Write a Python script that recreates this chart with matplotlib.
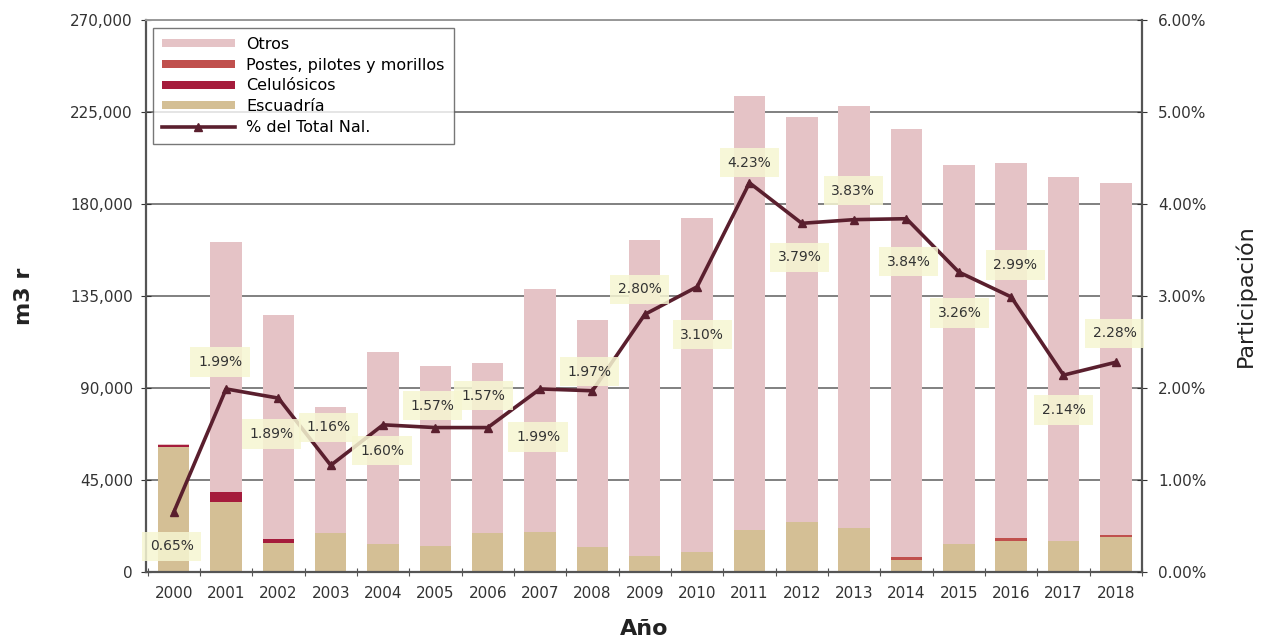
import matplotlib
matplotlib.use("Agg")
import matplotlib.pyplot as plt
from matplotlib.ticker import FuncFormatter, MultipleLocator, FixedLocator, NullFormatter
import numpy as np

years = ["2000", "2001", "2002", "2003", "2004", "2005", "2006", "2007", "2008", "2009",
         "2010", "2011", "2012", "2013", "2014", "2015", "2016", "2017", "2018"]
escuadria = [61100, 34400, 14300, 18900, 13500, 12700, 18900, 19700, 12400, 8000,
             9800, 20400, 24300, 21400, 5900, 13500, 15200, 15300, 17000]
celulosicos = [1000, 4900, 2000, 0, 0, 0, 0, 0, 0, 0,
               0, 0, 0, 0, 0, 0, 0, 0, 0]
postes = [0, 0, 0, 0, 0, 0, 0, 0, 0, 0,
          0, 0, 0, 0, 1300, 0, 1300, 0, 1300]
totales = [62600, 161400, 125700, 80700, 107600, 100750, 102200, 138400, 123250, 162400,
           173100, 232800, 222500, 227900, 216700, 199100, 200000, 193200, 190200]
pct_total = [0.65, 1.99, 1.89, 1.16, 1.60, 1.57, 1.57, 1.99, 1.97, 2.80,
             3.10, 4.23, 3.79, 3.83, 3.84, 3.26, 2.99, 2.14, 2.28]

otros = [t - e - c - p for t, e, c, p in zip(totales, escuadria, celulosicos, postes)]

# label offsets in pixels (style)
lab_dx = [-2, -6, -7, -2, -1, -3, -4, -2, -3, -5, 5, 0, -2, -1, 2, 1, 4, 0, -1]
lab_dy = [-34, 27, -36, 38, -26, 22, 32, -48, 19, 25, -48, 20, -34, 29, -43, -41, 32, -35, 29]

plt.rcParams['font.family'] = ['DejaVu Sans']

fig = plt.figure(figsize=(12.63, 6.38), dpi=100)
ax = fig.add_axes([0.1156, 0.1034, 0.7886, 0.8653])
x = np.arange(len(years))
w = 0.6

c_otros = "#e5c3c6"
c_postes = "#c0504d"
c_cel = "#a51c3c"
c_esc = "#d4bf95"
c_line = "#5a1f2e"
c_text = "#333333"

ax.set_axisbelow(True)
ax.yaxis.grid(True, color="#808080", lw=1.4)
b1 = ax.bar(x, escuadria, w, color=c_esc, label="Escuadría", zorder=2)
bottom = np.array(escuadria, dtype=float)
b2 = ax.bar(x, celulosicos, w, bottom=bottom, color=c_cel, label="Celulósicos", zorder=2)
bottom += np.array(celulosicos)
b3 = ax.bar(x, postes, w, bottom=bottom, color=c_postes, label="Postes, pilotes y morillos", zorder=2)
bottom += np.array(postes)
b4 = ax.bar(x, otros, w, bottom=bottom, color=c_otros, label="Otros", zorder=2)

ax.set_ylim(0, 270000)
ax.set_xlim(-0.53, 18.5)
ax.yaxis.set_major_locator(MultipleLocator(45000))
ax.yaxis.set_major_formatter(FuncFormatter(lambda v, p: f"{int(v):,}"))
ax.xaxis.set_major_locator(FixedLocator(list(np.arange(-0.5, 18.6, 1.0))))
ax.xaxis.set_major_formatter(NullFormatter())
ax.set_xticks(x, minor=True)
ax.set_xticklabels(years, minor=True)
ax.tick_params(axis='y', labelsize=11, colors=c_text, direction='inout', length=7, pad=6)
ax.tick_params(axis='x', which='major', direction='inout', length=6, color="#555555")
ax.tick_params(axis='x', which='minor', length=0, labelsize=11, labelcolor=c_text, pad=10)
for s in ['left', 'bottom']:
    ax.spines[s].set_color("#555555")
    ax.spines[s].set_linewidth(1.6)
ax.spines['top'].set_color("#999999")
ax.spines['top'].set_linewidth(1.4)
ax.spines['right'].set_visible(False)
ax.set_ylabel("m3 r", fontsize=16, fontweight='bold', labelpad=26, color="#222222")
ax.set_xlabel("Año", fontsize=16, fontweight='bold', labelpad=13, color="#222222")

ax2 = ax.twinx()
ax2.set_ylim(0, 6.0)
ax2.yaxis.set_major_locator(MultipleLocator(1.0))
ax2.yaxis.set_major_formatter(FuncFormatter(lambda v, p: f"{v:.2f}%"))
ax2.tick_params(axis='y', labelsize=11, colors=c_text, direction='inout', length=7, pad=8)
for s in ['left', 'top', 'bottom']:
    ax2.spines[s].set_visible(False)
ax2.spines['right'].set_color("#555555")
ax2.spines['right'].set_linewidth(1.6)
line, = ax2.plot(x, pct_total, color=c_line, lw=2.6, marker='^', markersize=6,
                 label="% del Total Nal.", zorder=5)
ax2.set_ylabel("Participación", fontsize=16, labelpad=20, color="#222222")

for xi, v, dx, dy in zip(x, pct_total, lab_dx, lab_dy):
    ax2.annotate(f"{v:.2f}%", (xi, v), xytext=(dx, dy), textcoords='offset pixels',
                 ha='center', va='center', fontsize=10, color=c_text,
                 bbox=dict(boxstyle='square,pad=0.55', fc="#f6f6d2", ec='none', alpha=0.85),
                 zorder=6)

handles = [b4, b3, b2, b1, line]
labels = [h.get_label() for h in handles]
leg = ax2.legend(handles, labels, loc='upper left', bbox_to_anchor=(0.007, 0.9855),
                 fontsize=11.5, frameon=True, fancybox=False, edgecolor="#555555",
                 handlelength=4.6, handleheight=0.4, labelspacing=0.36, borderpad=0.55,
                 handletextpad=0.7, borderaxespad=0.0)
leg.get_frame().set_linewidth(1.0)
leg.set_zorder(10)

fig.savefig("out.png", dpi=100)
